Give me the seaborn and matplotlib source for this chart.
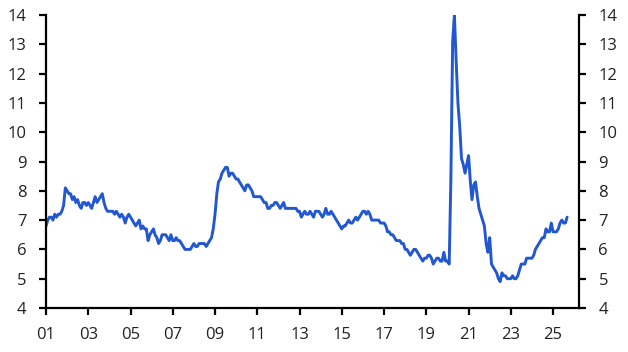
import matplotlib
matplotlib.use("Agg")
import matplotlib.pyplot as plt
import matplotlib.dates as mdates
import seaborn as sns
import pandas as pd
import numpy as np

# Monthly values, Jan 2001 - Sep 2025
v2001 = [6.8, 7.0, 7.1, 7.1, 7.0, 7.2, 7.1, 7.2, 7.2, 7.3, 7.5, 8.1]
v2002 = [8.0, 7.9, 7.9, 7.7, 7.8, 7.6, 7.7, 7.5, 7.4, 7.6, 7.6, 7.5]
v2003 = [7.6, 7.5, 7.4, 7.6, 7.8, 7.6, 7.7, 7.8, 7.9, 7.6, 7.4, 7.3]
v2004 = [7.3, 7.3, 7.3, 7.2, 7.3, 7.2, 7.1, 7.2, 7.1, 6.9, 7.1, 7.2]
v2005 = [7.1, 7.0, 6.9, 6.8, 6.9, 7.0, 6.7, 6.8, 6.7, 6.7, 6.3, 6.5]
v2006 = [6.6, 6.7, 6.5, 6.4, 6.2, 6.3, 6.5, 6.5, 6.5, 6.4, 6.3, 6.5]
v2007 = [6.3, 6.3, 6.4, 6.3, 6.3, 6.2, 6.1, 6.0, 6.0, 6.0, 6.0, 6.1]
v2008 = [6.2, 6.1, 6.1, 6.2, 6.2, 6.2, 6.2, 6.1, 6.2, 6.3, 6.4, 6.7]
v2009 = [7.2, 7.9, 8.3, 8.4, 8.6, 8.7, 8.8, 8.8, 8.5, 8.6, 8.6, 8.5]
v2010 = [8.4, 8.4, 8.3, 8.2, 8.1, 8.0, 8.2, 8.2, 8.1, 8.0, 7.8, 7.8]
v2011 = [7.8, 7.8, 7.8, 7.7, 7.6, 7.6, 7.4, 7.4, 7.5, 7.5, 7.6, 7.6]
v2012 = [7.5, 7.4, 7.5, 7.6, 7.4, 7.4, 7.4, 7.4, 7.4, 7.4, 7.4, 7.3]
v2013 = [7.3, 7.1, 7.2, 7.3, 7.2, 7.2, 7.3, 7.2, 7.1, 7.3, 7.3, 7.3]
v2014 = [7.2, 7.1, 7.2, 7.4, 7.2, 7.2, 7.3, 7.2, 7.1, 7.0, 6.9, 6.8]
v2015 = [6.7, 6.8, 6.8, 6.9, 7.0, 6.9, 6.9, 7.0, 7.1, 7.0, 7.1, 7.2]
v2016 = [7.3, 7.3, 7.2, 7.3, 7.2, 7.0, 7.0, 7.0, 7.0, 7.0, 6.9, 6.9]
v2017 = [6.9, 6.8, 6.6, 6.6, 6.5, 6.5, 6.4, 6.3, 6.3, 6.3, 6.2, 6.2]
v2018 = [6.0, 6.0, 5.9, 5.8, 5.9, 6.0, 6.0, 5.9, 5.8, 5.7, 5.6, 5.7]
v2019 = [5.7, 5.8, 5.8, 5.7, 5.5, 5.6, 5.7, 5.7, 5.6, 5.6, 5.9, 5.6]
v2020 = [5.6, 5.5, 8.4, 13.1, 14.0, 12.4, 11.0, 10.2, 9.1, 8.9, 8.6, 8.9]
v2021 = [9.2, 8.3, 7.7, 8.2, 8.3, 7.8, 7.4, 7.2, 7.0, 6.8, 6.2, 5.9]
v2022 = [6.4, 5.5, 5.4, 5.3, 5.2, 5.0, 4.9, 5.2, 5.1, 5.1, 5.0, 5.0]
v2023 = [5.0, 5.1, 5.0, 5.0, 5.1, 5.3, 5.5, 5.5, 5.5, 5.7, 5.7, 5.7]
v2024 = [5.7, 5.8, 6.0, 6.1, 6.2, 6.3, 6.4, 6.4, 6.7, 6.6, 6.6, 6.9]
v2025 = [6.6, 6.6, 6.6, 6.7, 6.9, 7.0, 6.9, 6.9, 7.1]

values = (v2001 + v2002 + v2003 + v2004 + v2005 + v2006 + v2007 + v2008 +
          v2009 + v2010 + v2011 + v2012 + v2013 + v2014 + v2015 + v2016 +
          v2017 + v2018 + v2019 + v2020 + v2021 + v2022 + v2023 + v2024 + v2025)
dates = pd.date_range("2001-01-01", periods=len(values), freq="MS")
df = pd.DataFrame({"date": dates, "value": values})

y_ticks = list(range(4, 15))
x_tick_years = list(range(2001, 2026, 2))

sns.set_style("ticks")
plt.rcParams["font.family"] = ["Open Sans", "DejaVu Sans"]

fig = plt.figure(figsize=(6.28, 3.52), dpi=100)
ax = fig.add_axes([46 / 628, 1 - 308 / 352, (579 - 46) / 628, (308 - 15) / 352])

sns.lineplot(data=df, x="date", y="value", ax=ax, color="#2157d1", linewidth=2.1)

ax.set_ylim(4, 14)
ax.set_yticks(y_ticks)
ax.set_xlim(pd.Timestamp("2001-01-01"), pd.Timestamp("2026-03-25"))
ax.set_xticks([pd.Timestamp(f"{y}-01-01") for y in x_tick_years])
ax.xaxis.set_major_formatter(mdates.DateFormatter("%y"))
ax.set_xlabel("")
ax.set_ylabel("")

for side in ["left", "right", "bottom"]:
    ax.spines[side].set_visible(True)
    ax.spines[side].set_linewidth(1.6)
    ax.spines[side].set_color("black")
ax.spines["top"].set_visible(False)

ax.tick_params(axis="y", which="both", left=True, right=True, labelleft=True,
               labelright=True, direction="out", length=5, width=1.6,
               pad=9, labelsize=12, colors="black", labelcolor="#222222")
ax.tick_params(axis="x", direction="out", length=5, width=1.6, pad=9,
               labelsize=12, colors="black", labelcolor="#222222")
ax.grid(False)

fig.savefig("out.png", dpi=100)
